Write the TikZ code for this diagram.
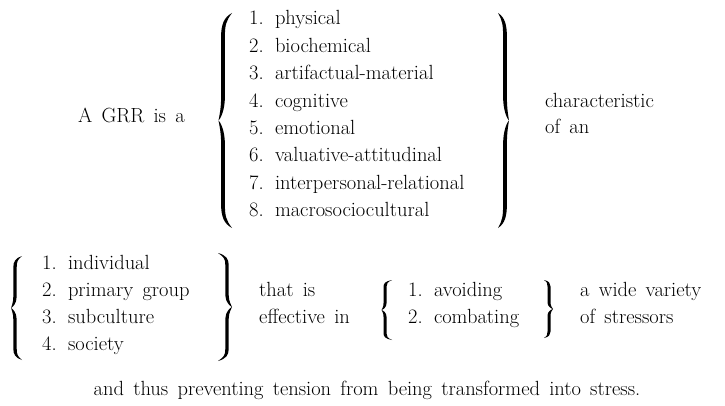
\documentclass[tikz,border=0pt]{standalone}
\usepackage{fontspec}
\newcommand{\diagfont}{\fontsize{20.5}{24}\selectfont\addfontfeatures{FakeBold=0.9}\spaceskip=0.45em plus 0.1em minus 0.05em\relax}
\newcommand{\drawbrace}[7]{%
  % #1 stem x, #2 top y, #3 bottom y, #4 direction (1 = left brace, -1 = right brace),
  % #5 tip offset, #6 cusp offset, #7 half thickness
  \pgfmathsetmacro\brH{(#3-#2)/2}%
  \pgfmathsetmacro\brM{(#2+#3)/2}%
  \pgfmathsetmacro\brK{0.22*\brH}%
  \begin{scope}[shift={(#1,0)},xscale=#4]
    \fill[braceink]
      (#5,#2)
      .. controls ({0.3*#5-#7},{#2+0.04*\brH}) and ({-#7},{#2+0.5*\brK}) .. ({-#7},{#2+\brK})
      -- ({-#7},{\brM-\brK})
      .. controls ({-#7},{\brM-0.45*\brK}) and ({-#6+0.4},{\brM-0.12*\brK}) .. ({-#6},{\brM})
      .. controls ({-#6+0.4},{\brM+0.12*\brK}) and ({-#7},{\brM+0.45*\brK}) .. ({-#7},{\brM+\brK})
      -- ({-#7},{#3-\brK})
      .. controls ({-#7},{#3-0.5*\brK}) and ({0.3*#5-#7},{#3-0.04*\brH}) .. (#5,#3)
      .. controls ({0.3*#5+0.3*#7},{#3-0.07*\brH}) and ({#7},{#3-0.5*\brK}) .. ({#7},{#3-\brK})
      -- ({#7},{\brM+\brK})
      .. controls ({#7},{\brM+0.4*\brK}) and ({-#6+1.6},{\brM+0.05*\brK}) .. ({-#6},{\brM})
      .. controls ({-#6+1.6},{\brM-0.05*\brK}) and ({#7},{\brM-0.4*\brK}) .. ({#7},{\brM-\brK})
      -- ({#7},{#2+\brK})
      .. controls ({#7},{#2+0.5*\brK}) and ({0.3*#5+0.3*#7},{#2+0.07*\brH}) .. (#5,#2)
      -- cycle;
  \end{scope}}
\begin{document}
\begin{tikzpicture}[x=1pt,y=-1pt,
  txt/.style={inner sep=0pt, font=\diagfont},
  braceink/.style={fill=black}]
\useasboundingbox (0,0) rectangle (725,406);
% top block
\node[txt, anchor=base west] (grr) at (78,123) {A GRR is a};
\node[txt, anchor=base west] (t1) at (249,25) {1. physical};
\node[txt, anchor=base west] (t2) at (249,52.4) {2. biochemical};
\node[txt, anchor=base west] (t3) at (249,79.8) {3. artifactual-material};
\node[txt, anchor=base west] (t4) at (249,107.2) {4. cognitive};
\node[txt, anchor=base west] (t5) at (249,134.6) {5. emotional};
\node[txt, anchor=base west] (t6) at (249,162) {6. valuative-attitudinal};
\node[txt, anchor=base west] (t7) at (249,189.4) {7. interpersonal-relational};
\node[txt, anchor=base west] (t8) at (249,216.8) {8. macrosociocultural};
\node[txt, anchor=base west] (char) at (545,108) {characteristic};
\node[txt, anchor=base west] (ofan) at (545,134) {of an};
\drawbrace{223}{13}{228}{1}{9}{4.5}{1.9}
\drawbrace{505}{13}{228}{-1}{7}{4}{1.9}
% bottom block
\node[txt, anchor=base west] (b1) at (42,269) {1. individual};
\node[txt, anchor=base west] (b2) at (42,296) {2. primary group};
\node[txt, anchor=base west] (b3) at (42,323) {3. subculture};
\node[txt, anchor=base west] (b4) at (42,350) {4. society};
\drawbrace{15}{256}{360}{1}{7}{4}{1.7}
\drawbrace{227}{253}{361}{-1}{9}{5}{1.7}
\node[txt, anchor=base west] (thatis) at (259,296) {that is};
\node[txt, anchor=base west] (effin) at (259,323) {effective in};
\drawbrace{385}{280}{340}{1}{7}{3.5}{1.5}
\node[txt, anchor=base west] (av) at (408,296) {1. avoiding};
\node[txt, anchor=base west] (cb) at (408,323) {2. combating};
\drawbrace{549}{280}{338}{-1}{5}{4}{1.5}
\node[txt, anchor=base west] (wide) at (580,296) {a wide variety};
\node[txt, anchor=base west] (stress) at (580,323) {of stressors};
% final line
\node[txt, anchor=base] (final) at (367,395) {and thus preventing tension from being transformed into stress.};
\end{tikzpicture}
\end{document}
